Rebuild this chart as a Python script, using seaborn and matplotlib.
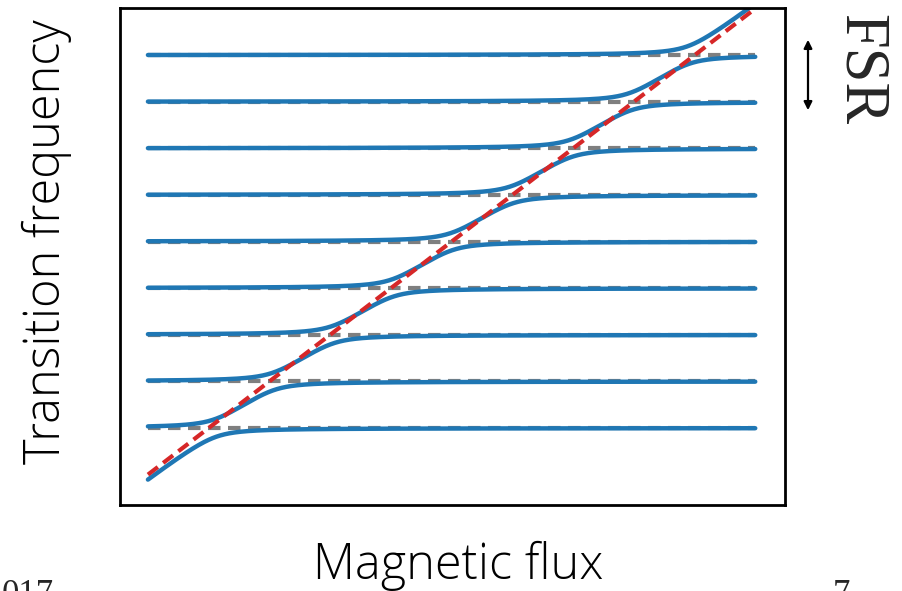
import numpy as np
import pandas as pd
import matplotlib
matplotlib.use("Agg")
import matplotlib.pyplot as plt
import seaborn as sns

# Bare resonator modes, in units of the free spectral range
mode_freqs = [1, 2, 3, 4, 5, 6, 7, 8, 9]
# Flux sweep end points and the bare qubit frequency at those ends
flux_ends = [0.0, 1.0]
qubit_freq_ends = [0.0, 10.0]
# Qubit-mode coupling strength
coupling = 0.2
n_points = 800

# Dressed spectrum: qubit coupled to every resonator mode
flux = np.linspace(flux_ends[0], flux_ends[1], n_points)
qubit_freq = np.interp(flux, flux_ends, qubit_freq_ends)
n_modes = len(mode_freqs)
ham = np.zeros((n_points, n_modes + 1, n_modes + 1))
ham[:, 0, 0] = qubit_freq
ham[:, 0, 1:] = coupling
ham[:, 1:, 0] = coupling
idx = np.arange(1, n_modes + 1)
ham[:, idx, idx] = mode_freqs
levels = np.linalg.eigvalsh(ham)

dressed = (pd.DataFrame(levels).assign(flux=flux)
           .melt(id_vars="flux", var_name="branch", value_name="freq"))
bare_modes = pd.DataFrame({
    "flux": np.tile(flux_ends, n_modes),
    "freq": np.repeat(mode_freqs, 2),
    "mode": np.repeat(np.arange(n_modes), 2),
})
bare_qubit = pd.DataFrame({"flux": flux_ends, "freq": qubit_freq_ends})

sns.set_style("white")
plt.rcParams["font.family"] = ["DejaVu Sans"]

fig = plt.figure(figsize=(9.02, 5.91), dpi=100)
ax = fig.add_axes([120 / 902, 1 - 505 / 591, 665 / 902, 497 / 591])

sns.lineplot(data=bare_modes, x="flux", y="freq", units="mode", estimator=None,
             color="#7f7f7f", linewidth=3.0, linestyle=(0, (3.0, 1.8)),
             legend=False, zorder=1, ax=ax)
sns.lineplot(data=dressed, x="flux", y="freq", units="branch", estimator=None,
             color="#1f77b4", linewidth=3.2, legend=False, zorder=2, ax=ax)
sns.lineplot(data=bare_qubit, x="flux", y="freq", color="#d62728",
             linewidth=3.0, linestyle=(0, (3.0, 1.6)), legend=False,
             zorder=3, ax=ax)

ax.set_xlim(-0.046, 1.049)
ax.set_ylim(-0.652, 10.013)
ax.set_xticks([])
ax.set_yticks([])
ax.set_xlabel("")
ax.set_ylabel("")
for sp in ax.spines.values():
    sp.set_color("black")
    sp.set_linewidth(2.0)
    sp.set_visible(True)

label_font = dict(family=["Open Sans", "DejaVu Sans"], weight=300, size=35,
                  color="black")
fig.text(0.508, 0.021, "Magnetic flux", ha="center", va="baseline",
         **label_font)
fig.text(0.052, 0.591, "Transition frequency", rotation=90, ha="center",
         va="center", **label_font)

# Free spectral range marker
fig.text(0.953, 0.882, "FSR", rotation=-90, ha="center", va="center",
         family=["Liberation Serif", "DejaVu Serif"], size=45)
fig.add_artist(matplotlib.patches.FancyArrowPatch(
    (808 / 902, 1 - 113 / 591), (808 / 902, 1 - 37 / 591),
    transform=fig.transFigure, arrowstyle="<|-|>", mutation_scale=12,
    linewidth=1.6, color="black"))

page_font = dict(family=["Liberation Serif", "DejaVu Serif"], size=25,
                 va="baseline")
fig.text(0.002, -0.022, "017", ha="left", **page_font)
fig.text(833 / 902, -0.022, "7", ha="left", **page_font)

fig.savefig("out.png", dpi=100)
